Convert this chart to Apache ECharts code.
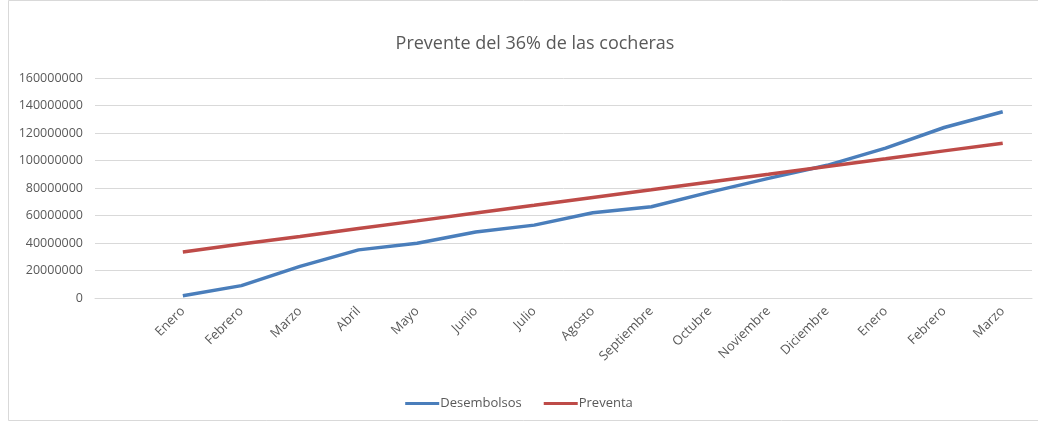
<!DOCTYPE html>
<html>
<head>
<meta charset="utf-8">
<script src="https://cdn.jsdelivr.net/npm/echarts@6/dist/echarts.min.js"></script>
<style>html,body{margin:0;padding:0;background:#fff}#c{width:1038px;height:421px}</style>
</head>
<body>
<div id="c"></div>
<script>
const categories = ['', 'Enero', 'Febrero', 'Marzo', 'Abril', 'Mayo', 'Junio', 'Julio', 'Agosto', 'Septiembre', 'Octubre', 'Noviembre', 'Diciembre', 'Enero', 'Febrero', 'Marzo'];
const desembolsos = [null, 1700000, 9000000, 23000000, 35000000, 39800000, 48000000, 53000000, 62000000, 66400000, 77000000, 87000000, 96500000, 109000000, 124000000, 135500000];
const preventa = [null, 33500000, 39200000, 44800000, 50500000, 56100000, 61800000, 67400000, 73100000, 78700000, 84400000, 90000000, 95700000, 101300000, 107000000, 112600000];
const yTicks = { min: 0, max: 160000000, interval: 20000000 };

const chart = echarts.init(document.getElementById('c'));
const font = '"Open Sans", "Liberation Sans", sans-serif';
chart.setOption({
  animation: false,
  backgroundColor: '#fff',
  graphic: [{ type: 'rect', shape: { x: 8.5, y: 0.5, width: 1100, height: 420 }, style: { fill: 'none', stroke: '#d9d9d9', lineWidth: 1 } }],
  title: {
    text: 'Prevente del 36% de las cocheras',
    left: 530, top: 30, textAlign: 'center',
    textStyle: { fontFamily: font, fontSize: 18, fontWeight: 'normal', color: '#595959' }
  },
  legend: {
    bottom: 6, left: 'center',
    icon: 'rect', itemWidth: 34, itemHeight: 3, itemGap: 22,
    textStyle: { fontFamily: font, fontSize: 13, color: '#595959', padding: [0, 0, 0, -4] },
    data: ['Desembolsos', 'Preventa']
  },
  grid: { left: 95, right: 6, top: 78, bottom: 123, containLabel: false },
  xAxis: {
    type: 'category', data: categories, boundaryGap: true,
    axisLine: { lineStyle: { color: '#d9d9d9' } },
    axisTick: { show: false },
    axisLabel: { rotate: 45, interval: 0, margin: 11, color: '#595959', fontFamily: font, fontSize: 13 }
  },
  yAxis: {
    type: 'value', min: yTicks.min, max: yTicks.max, interval: yTicks.interval,
    axisLine: { show: false }, axisTick: { show: false },
    axisLabel: { margin: 12, color: '#595959', fontFamily: font, fontSize: 12.5, formatter: v => String(v) },
    splitLine: { lineStyle: { color: '#d9d9d9' } }
  },
  series: [
    { name: 'Desembolsos', type: 'line', data: desembolsos, symbol: 'none', lineStyle: { width: 3.5, color: '#4A7EBB' }, itemStyle: { color: '#4A7EBB' } },
    { name: 'Preventa', type: 'line', data: preventa, symbol: 'none', lineStyle: { width: 3.5, color: '#BE4B48' }, itemStyle: { color: '#BE4B48' } }
  ]
});
</script>
</body>
</html>
